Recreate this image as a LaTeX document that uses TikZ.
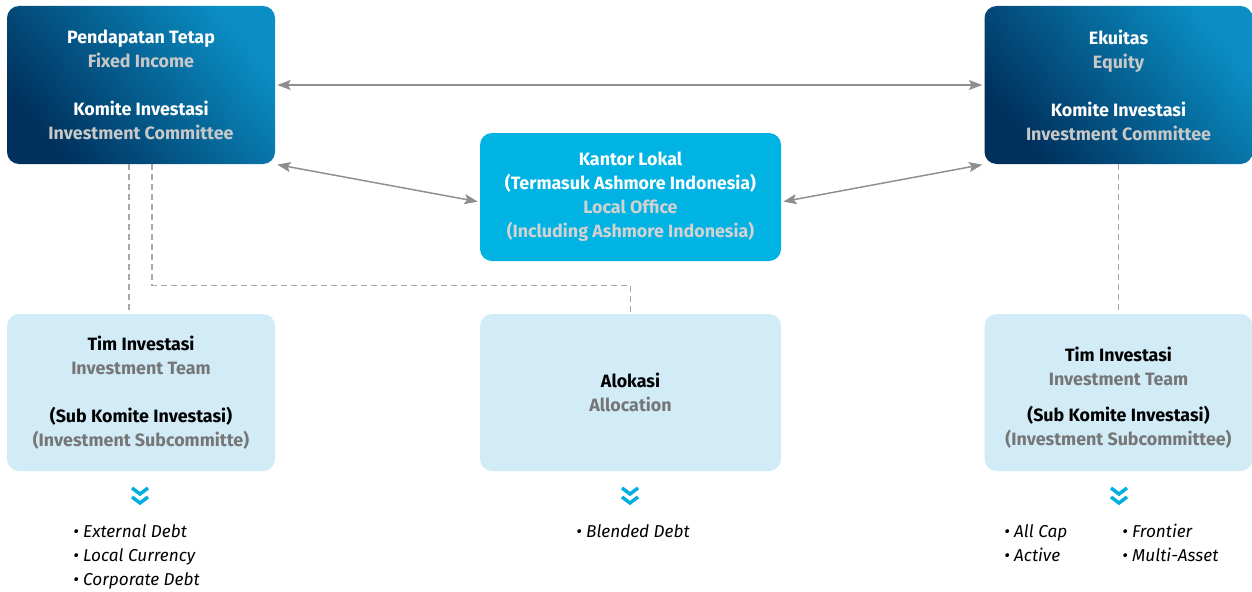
\documentclass[tikz,border=0pt]{standalone}
\usepackage{fontspec}
\setmainfont{Fira Sans}
\usetikzlibrary{arrows.meta}
\definecolor{navy}{HTML}{00305C}
\definecolor{ocean}{HTML}{0A8EC4}
\definecolor{cyanbox}{HTML}{00B3E3}
\definecolor{palebox}{HTML}{D1EBF7}
\definecolor{greylight}{HTML}{C8C8C8}
\definecolor{greyoncyan}{HTML}{D2D2D2}
\definecolor{greymid}{HTML}{767676}
\definecolor{arrowgrey}{HTML}{8E8E8E}
\definecolor{dashgrey}{HTML}{A8A8A8}
\definecolor{chevcyan}{HTML}{00AEE0}
\begin{document}
\begin{tikzpicture}[x=0.75pt,y=-0.75pt,
  box/.style={rounded corners=9pt, align=center, inner sep=0pt,
    font=\fontsize{13.4}{18}\selectfont\bfseries},
  darkbox/.style={box, minimum width=201pt, minimum height=118.5pt,
    top color=ocean, bottom color=navy, shading angle=-50, text=white},
  localbox/.style={box, fill=cyanbox, text=white,
    minimum width=225.75pt, minimum height=96pt},
  teambox/.style={box, fill=palebox, text=black,
    minimum width=201pt, minimum height=117.75pt},
  allocbox/.style={teambox, minimum width=225.75pt},
  link/.style={draw=arrowgrey, line width=1.1pt,
    {Stealth[length=10pt,width=7.5pt,inset=2pt]}-{Stealth[length=10pt,width=7.5pt,inset=2pt]},
    shorten <=1.5pt, shorten >=1.5pt},
  reports/.style={draw=dashgrey, line width=0.8pt, dash pattern=on 4.5pt off 3pt},
  listtext/.style={align=left, inner sep=0pt, anchor=north west,
    font=\fontsize{12.9}{18}\selectfont\itshape},
  chev/.pic={
    \draw[chevcyan, line width=2.6pt, line join=miter]
      (-8,-8) -- (0,-2) -- (8,-8)
      (-8,1) -- (0,7) -- (8,1);
  }
]
\useasboundingbox (0,0) rectangle (1252,592);

% top row: investment committees
\node[darkbox] (fi) at (141,85)
  {Pendapatan Tetap\\ \textcolor{greylight}{Fixed Income}\\[18pt]
   Komite Investasi\\ \textcolor{greylight}{Investment Committee}};
\node[darkbox] (eq) at (1118.5,85)
  {Ekuitas\\ \textcolor{greylight}{Equity}\\[18pt]
   Komite Investasi\\ \textcolor{greylight}{Investment Committee}};

% local office
\node[localbox] (lo) at (630.5,197)
  {Kantor Lokal\\ (Termasuk Ashmore Indonesia)\\
   \textcolor{greyoncyan}{Local Office}\\
   \textcolor{greyoncyan}{(Including Ashmore Indonesia)}};

% bottom row: teams and allocation
\node[teambox] (tl) at (141,392.5)
  {Tim Investasi\\ \textcolor{greymid}{Investment Team}\\[18pt]
   (Sub Komite Investasi)\\ \textcolor{greymid}{(Investment Subcommitte)}};
\node[allocbox] (al) at (630.5,392.5)
  {Alokasi\\ \textcolor{greymid}{Allocation}};
\node[teambox] (tr) at (1118.5,392.5)
  {\mbox{}\\[0pt] Tim Investasi\\ \textcolor{greymid}{Investment Team}\\[9pt]
   (Sub Komite Investasi)\\ \textcolor{greymid}{(Investment Subcommittee)}};

% two-way links
\draw[link] (fi.east) -- (eq.west);
\draw[link] (fi.south east) -- ([yshift=-3.75pt]lo.west);
\draw[link] (eq.south west) -- ([yshift=-3.75pt]lo.east);

% reporting lines
\draw[reports] ([xshift=-9pt]fi.south) -- ([xshift=-9pt]tl.north);
\draw[reports] ([xshift=8.25pt]fi.south) -- ++(0,121) -| (al.north);
\draw[reports] (eq.south) -- (tr.north);

% chevrons
\pic at (140,496) {chev};
\pic at (630,496) {chev};
\pic at (1119,496) {chev};

% strategy lists
\node[listtext] (ll) at (73,524)
  {•~External Debt\\ •~Local Currency\\ •~Corporate Debt};
\node[listtext] (cl) at (576,524) {•~Blended Debt};
\node[listtext] (rl1) at (1004,524) {•~All Cap\\ •~Active};
\node[listtext] (rl2) at (1122,524) {•~Frontier\\ •~Multi-Asset};
\end{tikzpicture}
\end{document}
